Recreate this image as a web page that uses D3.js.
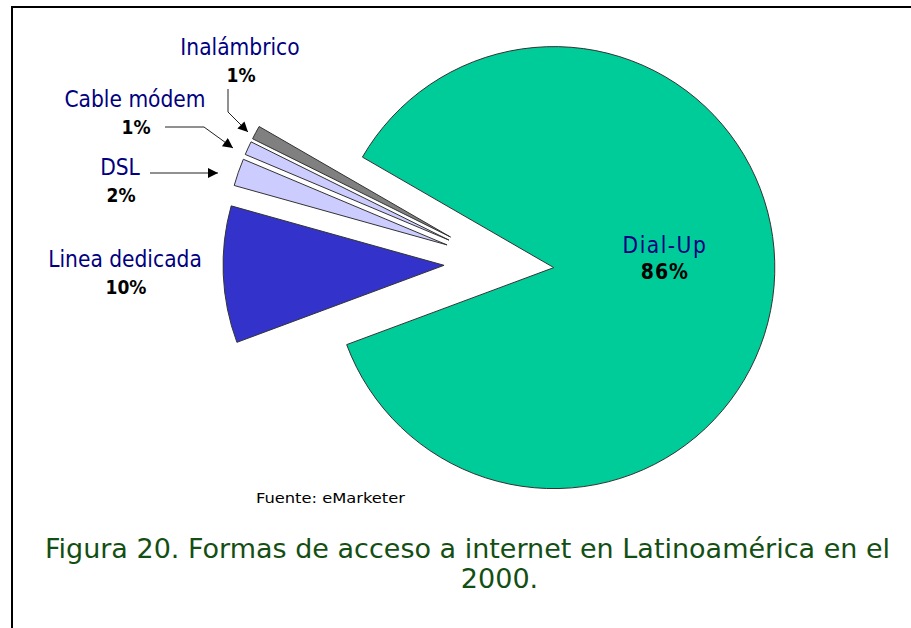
<!DOCTYPE html>
<html>
<head>
<meta charset="utf-8">
<script src="https://cdn.jsdelivr.net/npm/d3@7"></script>
<style>
  body { margin: 0; background: #fff; }
  svg { display: block; }
</style>
</head>
<body>
<script>
// data
var categories = ["Dial-Up", "Linea dedicada", "DSL", "Cable módem", "Inalámbrico"];
var values = [86, 10, 2, 1, 1];
var percentLabels = ["86%", "10%", "2%", "1%", "1%"];
var sliceColors = ["#00cc99", "#3333cc", "#ccccff", "#ccccff", "#808080"];
var source = "Fuente: eMarketer";
var captionLines = ["Figura 20. Formas de acceso a internet en Latinoamérica en el", "2000."];

var width = 911, height = 628;
var cx = 499, cy = 263, radius = 221, explode = 55;
var labelFont = "'DejaVu Sans Condensed', 'DejaVu Sans', sans-serif";

var svg = d3.select("body").append("svg")
  .attr("width", width)
  .attr("height", height);

var defs = svg.append("defs");
defs.append("marker")
  .attr("id", "arrow")
  .attr("viewBox", "0 0 10 10")
  .attr("refX", 10).attr("refY", 5)
  .attr("markerWidth", 12).attr("markerHeight", 10)
  .attr("markerUnits", "userSpaceOnUse")
  .attr("orient", "auto")
  .append("path")
  .attr("d", "M0,0L10,5L0,10z")
  .attr("fill", "#000");

// frame: only left and top edges are visible
svg.append("path")
  .attr("d", "M12," + height + "V7H" + width)
  .attr("fill", "none")
  .attr("stroke", "#000")
  .attr("stroke-width", 2);

var color = d3.scaleOrdinal().domain(categories).range(sliceColors);

var pie = d3.pie()
  .sort(null)
  .value(function (d) { return d.value; })
  .startAngle(300 * Math.PI / 180)
  .endAngle(660 * Math.PI / 180);

var arc = d3.arc().innerRadius(0).outerRadius(radius);

var rows = categories.map(function (c, i) {
  return { name: c, value: values[i], pct: percentLabels[i] };
});
var slices = pie(rows);

function offset(d) {
  var a = (d.startAngle + d.endAngle) / 2;
  return [Math.sin(a) * explode, -Math.cos(a) * explode];
}

var main = svg.append("g").attr("transform", "translate(" + cx + "," + cy + ")");

main.selectAll("path.slice")
  .data(slices)
  .enter().append("path")
  .attr("class", "slice")
  .attr("transform", function (d) {
    var o = offset(d);
    return "translate(" + o[0] + "," + o[1] + ")";
  })
  .attr("d", arc)
  .attr("fill", function (d) { return color(d.data.name); })
  .attr("stroke", "#333")
  .attr("stroke-width", 1)
  .attr("stroke-linejoin", "miter");

// the big slice carries its label inside
var big = slices[0];
var bc = arc.centroid(big), bo = offset(big);
var inside = main.append("text")
  .attr("text-anchor", "middle")
  .attr("font-family", labelFont);
inside.append("tspan")
  .attr("x", bc[0] + bo[0] + 1)
  .attr("y", bc[1] + bo[1] - 24)
  .attr("fill", "#000080")
  .attr("font-size", 22.5)
  .attr("letter-spacing", 1.5)
  .text(big.data.name);
inside.append("tspan")
  .attr("x", bc[0] + bo[0] + 1)
  .attr("y", bc[1] + bo[1] + 2)
  .attr("fill", "#000")
  .attr("font-size", 21)
  .attr("font-weight", "bold")
  .attr("letter-spacing", 1)
  .text(big.data.pct);

// outside labels, placed like the original callouts
var outside = {
  "Linea dedicada": { x: 125, y: 267 },
  "DSL": { x: 120, y: 175 },
  "Cable módem": { x: 135, y: 107 },
  "Inalámbrico": { x: 240, y: 55 }
};
var leaders = {
  "DSL": [[150, 173], [218, 173]],
  "Cable módem": [[165, 127], [204, 127], [233, 148]],
  "Inalámbrico": [[228, 89], [228, 112], [248, 132]]
};

var outer = svg.append("g").selectAll("g")
  .data(slices.slice(1))
  .enter().append("g");

outer.append("text")
  .attr("x", function (d) { return outside[d.data.name].x; })
  .attr("y", function (d) { return outside[d.data.name].y; })
  .attr("text-anchor", "middle")
  .attr("font-family", labelFont)
  .attr("font-size", 22.5)
  .attr("fill", "#000080")
  .text(function (d) { return d.data.name; });

outer.append("text")
  .attr("x", function (d) { return outside[d.data.name].x + 1; })
  .attr("y", function (d) { return outside[d.data.name].y + 27; })
  .attr("text-anchor", "middle")
  .attr("font-family", labelFont)
  .attr("font-size", 19)
  .attr("font-weight", "bold")
  .attr("fill", "#000")
  .text(function (d) { return d.data.pct; });

var line = d3.line();
outer.filter(function (d) { return leaders[d.data.name]; })
  .append("path")
  .attr("d", function (d) { return line(leaders[d.data.name]); })
  .attr("fill", "none")
  .attr("stroke", "#222")
  .attr("stroke-width", 1)
  .attr("marker-end", "url(#arrow)");

svg.append("text")
  .attr("x", 256)
  .attr("y", 503)
  .attr("font-family", labelFont)
  .attr("font-size", 14)
  .attr("textLength", 149)
  .attr("lengthAdjust", "spacingAndGlyphs")
  .attr("fill", "#000")
  .text(source);

svg.append("g").selectAll("text")
  .data(captionLines)
  .enter().append("text")
  .attr("x", function (d, i) { return i === 0 ? 467.5 : 499.5; })
  .attr("y", function (d, i) { return 558 + i * 30; })
  .attr("text-anchor", "middle")
  .attr("font-family", "'DejaVu Sans', Verdana, sans-serif")
  .attr("font-size", 27)
  .attr("fill", "#134f13")
  .text(function (d) { return d; });
</script>
</body>
</html>
